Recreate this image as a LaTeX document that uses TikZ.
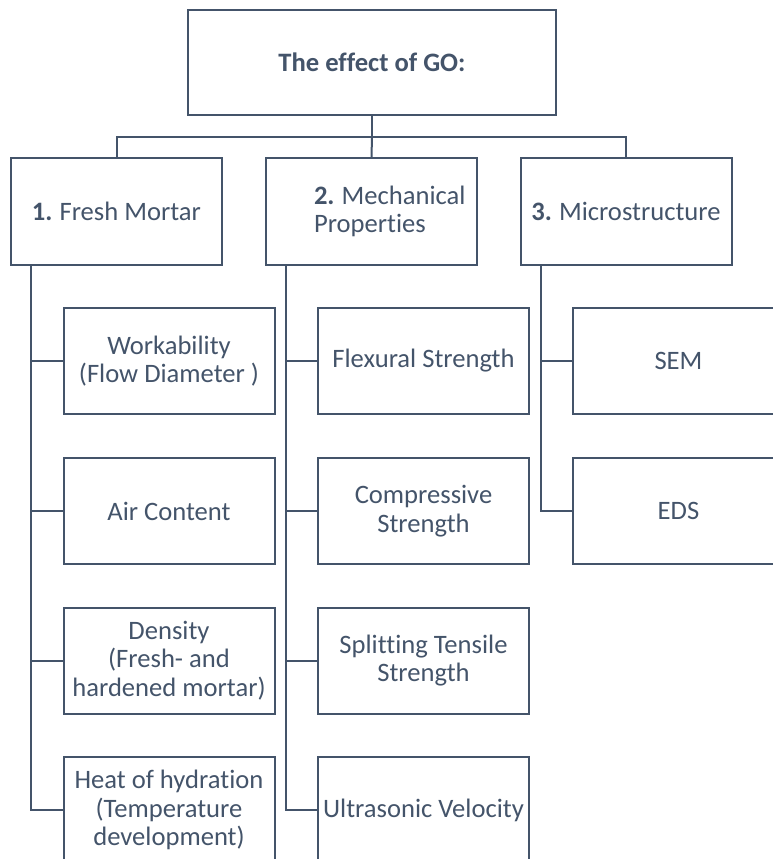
\documentclass[tikz,border=0pt]{standalone}
\usepackage{fontspec}
\setmainfont{Carlito}[Ligatures=NoCommon]
\definecolor{slate}{HTML}{44546A}
\newcommand{\numgap}{\hspace{7pt}}
\begin{document}
\begin{tikzpicture}[x=1pt,y=-1pt,
  conn/.style={draw=slate, line width=2pt},
  box/.style={draw=slate, line width=2pt, rectangle, inner sep=0pt,
    minimum width=211pt, minimum height=106pt, align=center,
    font=\fontsize{26.6}{28.5}\selectfont, text=slate},
  headbox/.style={box, minimum height=107pt}]
\useasboundingbox (0,0) rectangle (773,859);
\clip (0,0) rectangle (773,859);
% top
\node[box, minimum width=368pt, minimum height=105pt, font=\fontsize{26.6}{28.5}\selectfont\bfseries] (top) at (372,62.5) {The effect of GO:};
% level 1
\node[headbox] (c1) at (116.5,211.5) {\textbf{1.}\numgap Fresh Mortar};
\node[headbox, text width=211pt, align=left] (c2) at (371.5,211.5) {\hspace*{48pt}\textbf{2.}\numgap Mechanical\\\hspace*{48pt}Properties};
\node[headbox] (c3) at (626,211.5) {\textbf{3.}\numgap Microstructure};
% column 1
\node[box] (w1) at (169,361) {Workability\\(Flow Diameter )};
\node[box] (a1) at (169,511) {Air Content};
\node[box] (d1) at (169,660.5) {Density\\(Fresh- and\\hardened mortar)};
\node[box] (h1) at (169,810) {Heat of hydration\\(Temperature\\development)};
% column 2
\node[box] (f2) at (423.5,361) {Flexural Strength};
\node[box] (k2) at (423.5,511) {Compressive\\Strength};
\node[box] (s2) at (423.5,660.5) {Splitting Tensile\\Strength};
\node[box] (u2) at (423.5,810) {Ultrasonic Velocity};
% column 3
\node[box] (m3) at (678.5,361) {SEM};
\node[box] (e3) at (678.5,511) {EDS};
% connectors top
\coordinate (bus) at (372,137);
\draw[conn] (top.south) -- (bus);
\draw[conn] (c1.north) |- (bus) -| (c3.north);
\draw[conn] (bus) -- (c2.north);
% column connectors
\coordinate (v1) at ([xshift=21pt]c1.south west);
\coordinate (v2) at ([xshift=21pt]c2.south west);
\coordinate (v3) at ([xshift=21pt]c3.south west);
\draw[conn] (v1) |- (h1.west);
\foreach \n in {w1,a1,d1} \draw[conn] (\n.west) -- (\n.west -| v1);
\draw[conn] (v2) |- (u2.west);
\foreach \n in {f2,k2,s2} \draw[conn] (\n.west) -- (\n.west -| v2);
\draw[conn] (v3) |- (e3.west);
\draw[conn] (m3.west) -- (m3.west -| v3);
\end{tikzpicture}
\end{document}
